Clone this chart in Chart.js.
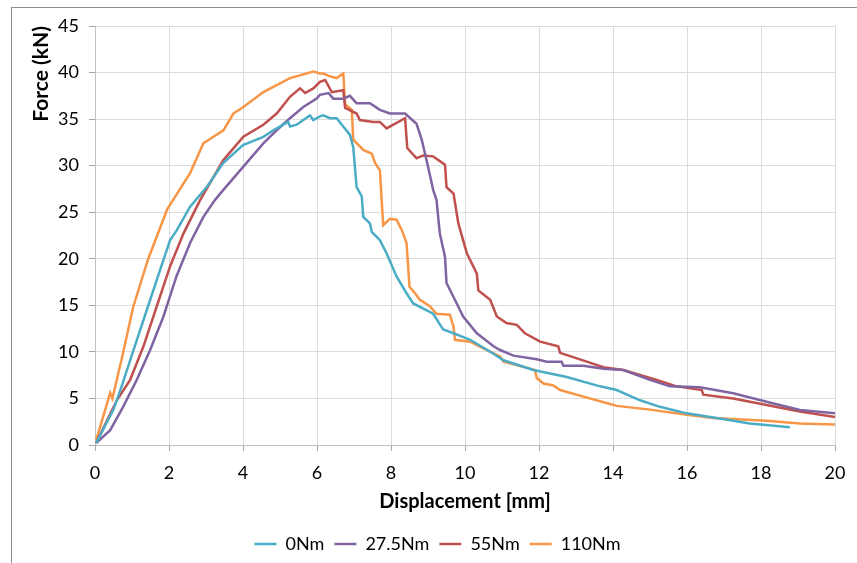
<!DOCTYPE html>
<html>
<head>
<meta charset="utf-8">
<script src="https://cdn.jsdelivr.net/npm/chart.js@4.4.1/dist/chart.umd.min.js"></script>
<style>
  html, body { margin: 0; padding: 0; background: #fff; overflow: hidden; }
  #wrap { position: relative; width: 857px; height: 563px; }
  #frame { position: absolute; left: 11px; top: 7px; width: 900px; height: 600px; border: 1px solid #8c8c8c; box-sizing: border-box; }
  #myChart { position: absolute; left: 0; top: 0; }
</style>
</head>
<body>
<div id="wrap">
  <div id="frame"></div>
  <canvas id="myChart" width="857" height="563"></canvas>
</div>
<script>
// displacement [mm] / force [kN]
const disp0 = [0.03,0.5,0.72,1.04,1.4,1.76,2.03,2.2,2.57,3.02,3.47,4.0,4.55,4.82,5.22,5.27,5.45,5.63,5.81,5.9,6.08,6.17,6.35,6.53,6.71,6.89,6.98,7.07,7.21,7.25,7.43,7.48,7.7,7.88,8.15,8.42,8.6,9.14,9.41,9.69,10.14,10.77,11.04,11.85,12.75,13.65,14.1,14.73,15.27,15.99,16.8,17.7,18.78]
const force0 = [0.2,3.8,6.3,10.2,14.5,18.8,22.0,23.0,25.6,27.7,30.3,32.2,33.1,33.8,34.7,34.2,34.4,34.9,35.4,34.9,35.3,35.4,35.1,35.1,34.2,33.3,32.0,27.7,26.7,24.5,23.8,22.9,22.0,20.6,18.1,16.3,15.2,14.1,12.4,12.0,11.3,9.8,9.1,8.05,7.3,6.3,5.9,4.8,4.1,3.4,2.9,2.3,1.9]

const disp27 = [0.03,0.41,0.76,1.13,1.49,1.85,2.2,2.57,2.93,3.24,3.47,4.01,4.55,4.91,5.27,5.63,5.99,6.08,6.31,6.44,6.53,6.71,6.89,7.07,7.16,7.43,7.7,7.97,8.38,8.69,8.83,8.96,9.14,9.23,9.32,9.46,9.5,9.69,9.95,10.32,10.77,10.95,11.31,11.94,12.21,12.61,12.66,13.2,13.74,14.28,15.0,15.54,16.35,17.25,18.15,19.05,20]
const force27 = [0.2,1.6,4.1,7.0,10.2,13.8,18.1,21.7,24.5,26.3,27.4,29.9,32.4,33.8,35.1,36.3,37.2,37.6,37.8,37.2,37.2,37.2,37.5,36.7,36.7,36.7,36.0,35.6,35.6,34.5,32.8,30.6,27.4,26.3,22.7,20.2,17.4,15.9,13.8,12.0,10.6,10.2,9.6,9.2,8.95,8.95,8.5,8.5,8.2,8.05,7.0,6.3,6.2,5.55,4.65,3.75,3.4]

const disp55 = [0.03,0.59,0.95,1.31,1.67,2.03,2.39,2.84,3.47,4.01,4.55,4.91,5.27,5.54,5.68,5.9,6.08,6.22,6.4,6.71,6.76,7.07,7.16,7.52,7.7,7.88,8.38,8.44,8.69,8.87,9.14,9.46,9.5,9.69,9.82,10.05,10.32,10.36,10.68,10.86,11.12,11.4,11.62,12.03,12.52,12.57,13.29,13.74,14.28,15.18,15.72,16.4,16.44,17.25,18.15,19.05,20]
const force55 = [0.2,4.8,7.0,10.6,14.9,19.2,22.7,26.3,30.6,33.1,34.4,35.6,37.4,38.3,37.8,38.3,39.0,39.2,37.9,38.1,36.2,35.6,34.9,34.7,34.7,34.0,35.1,31.9,30.8,31.1,31.0,30.1,27.7,27.0,23.8,20.6,18.4,16.6,15.6,13.8,13.1,12.9,12.0,11.1,10.6,9.9,8.95,8.35,8.05,7.0,6.3,5.9,5.4,5.0,4.3,3.6,3.0]

const disp110 = [0.03,0.41,0.47,0.76,1.03,1.43,1.95,2.57,2.93,3.47,3.74,4.01,4.55,5.27,5.9,6.08,6.17,6.35,6.53,6.71,6.76,6.94,6.98,7.25,7.48,7.57,7.7,7.79,7.97,8.15,8.29,8.42,8.5,8.65,8.78,9.05,9.23,9.59,9.69,9.73,10.14,10.59,10.95,11.04,11.76,11.89,11.94,12.12,12.39,12.57,13.2,13.92,14.1,15.0,15.9,16.7,18.15,19.05,20]
const force110 = [0.5,5.6,5.0,9.9,14.8,19.9,25.3,29.2,32.4,33.8,35.6,36.3,37.9,39.4,40.1,39.9,39.9,39.6,39.4,39.9,36.6,36.0,32.8,31.7,31.3,30.3,29.5,23.6,24.3,24.2,23.1,21.7,17.0,16.3,15.6,14.9,14.1,14.0,12.7,11.3,11.1,10.2,9.5,8.95,8.2,8.05,7.2,6.6,6.4,5.9,5.2,4.4,4.2,3.8,3.3,2.9,2.6,2.3,2.2]

const seriesNames = ['0Nm', '27.5Nm', '55Nm', '110Nm']
const seriesColors = ['#4bacc6', '#8064a2', '#c0504d', '#f79646']
const xTicks = [0, 20, 2]   // min, max, step
const yTicks = [0, 45, 5]

const toPoints = (xs, ys) => xs.map((x, i) => ({ x: x, y: ys[i] }))
const allData = [
  toPoints(disp0, force0),
  toPoints(disp27, force27),
  toPoints(disp55, force55),
  toPoints(disp110, force110)
]

const fontName = 'Lato'

// legend in the original sits a bit right of centre
const legendShift = {
  id: 'legendShift',
  beforeDraw(chart) {
    if (!chart.legend._shifted) {
      chart.legend.left += 14
      chart.legend.right += 14
      chart.legend._shifted = true
    }
  }
}

const config = {
  type: 'line',
  data: {
    datasets: allData.map((d, i) => ({
      label: seriesNames[i],
      data: d,
      borderColor: seriesColors[i],
      backgroundColor: seriesColors[i],
      borderWidth: 2.5,
      pointRadius: 0,
      pointStyle: 'line',
      tension: 0,
      fill: false
    }))
  },
  options: {
    responsive: false,
    animation: false,
    layout: { padding: { left: 12, right: 22, top: 26, bottom: 0 } },
    plugins: {
      tooltip: { enabled: false },
      legend: {
        position: 'bottom',
        labels: {
          usePointStyle: true,
          pointStyle: 'line',
          pointStyleWidth: 22,
          boxHeight: 18,
          padding: 10,
          color: '#000',
          font: { family: fontName, size: 18 }
        }
      }
    },
    scales: {
      x: {
        type: 'linear',
        min: xTicks[0],
        max: xTicks[1],
        ticks: { stepSize: xTicks[2], padding: 11, color: '#000', font: { family: fontName, size: 18 } },
        grid: { color: '#dcdcdc', tickColor: '#a6a6a6', tickLength: 6 },
        border: { color: '#bfbfbf' },
        title: {
          display: true,
          text: 'Displacement [mm]',
          color: '#000',
          font: { family: fontName, size: 20, weight: 'bold' },
          padding: { top: 0, bottom: 11 }
        },
        afterFit: (scale) => { scale.height = 80 }
      },
      y: {
        min: yTicks[0],
        max: yTicks[1],
        ticks: { stepSize: yTicks[2], padding: 10, color: '#000', font: { family: fontName, size: 18 } },
        grid: { color: '#dcdcdc', tickColor: '#a6a6a6', tickLength: 6 },
        border: { color: '#bfbfbf' },
        title: {
          display: true,
          text: 'Force (kN)',
          align: 'end',
          color: '#000',
          font: { family: fontName, size: 21, weight: 'bold' },
          padding: { top: 17, bottom: 0 }
        },
        afterFit: (scale) => { scale.width = 83 }
      }
    }
  },
  plugins: [legendShift]
}

new Chart(document.getElementById('myChart'), config)
</script>
</body>
</html>
